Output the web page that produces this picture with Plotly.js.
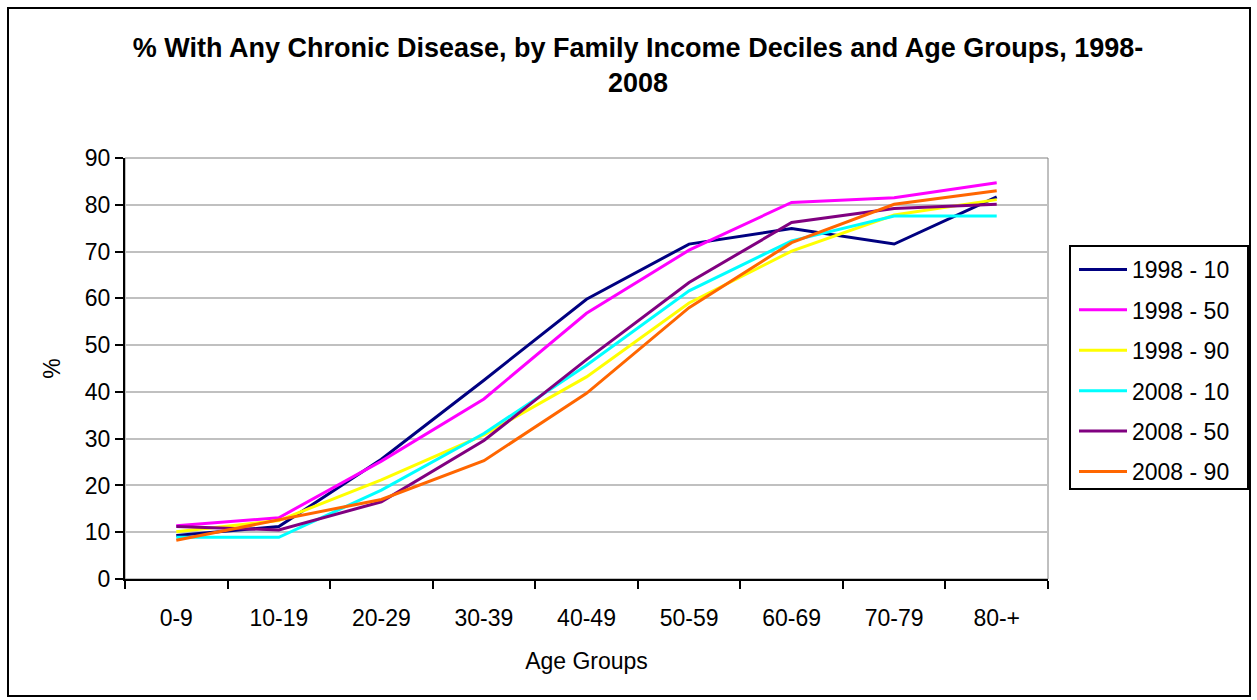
<!DOCTYPE html>
<html>
<head>
<meta charset="utf-8">
<script src="https://cdn.plot.ly/plotly-3.0.1.min.js"></script>
<style>
  html, body { margin: 0; padding: 0; background: #ffffff; }
  #chart { width: 1257px; height: 700px; }
</style>
</head>
<body>
<div id="chart"></div>
<script>
// Age groups on the category axis
const ageGroups = ['0-9', '10-19', '20-29', '30-39', '40-49', '50-59', '60-69', '70-79', '80-+'];

// % with any chronic disease, by year and family income decile
const y1998_d10 = [9.3, 11.2, 25.6, 42.5, 59.8, 71.6, 74.9, 71.6, 81.7];
const y1998_d50 = [11.4, 13.1, 25.2, 38.5, 56.8, 70.3, 80.5, 81.5, 84.7];
const y1998_d90 = [10.1, 12.5, 21.2, 30.8, 43.2, 59.0, 70.1, 77.8, 81.1];
const y2008_d10 = [8.9, 8.9, 19.0, 31.1, 45.7, 61.6, 72.3, 77.6, 77.6];
const y2008_d50 = [11.2, 10.5, 16.5, 29.6, 46.9, 63.4, 76.2, 79.2, 80.1];
const y2008_d90 = [8.3, 12.6, 17.0, 25.3, 39.7, 58.0, 71.9, 80.1, 83.0];

const seriesNames = ['1998 - 10', '1998 - 50', '1998 - 90', '2008 - 10', '2008 - 50', '2008 - 90'];
const seriesValues = [y1998_d10, y1998_d50, y1998_d90, y2008_d10, y2008_d50, y2008_d90];
const seriesColors = ['#000080', '#FF00FF', '#FFFF00', '#00FFFF', '#800080', '#FF6600'];

const FONT = 'Liberation Sans, Arial, sans-serif';

const traces = seriesNames.map((name, i) => ({
  type: 'scatter',
  mode: 'lines',
  name: name,
  legendgroup: 'g' + i,
  x: ageGroups,
  y: seriesValues[i],
  line: { color: seriesColors[i], width: 3 },
  hoverinfo: 'x+y+name'
}));

// plot area in pixels: left 125, right 1048, top 158, bottom 579
const L = 125, R = 1048, T = 158, B = 579;
const px = v => (v - L) / (R - L);
const py = v => (B - v) / (B - T);

const layout = {
  width: 1257,
  height: 700,
  margin: { l: L, r: 1257 - R, t: T, b: 700 - B, pad: 0 },
  paper_bgcolor: '#ffffff',
  plot_bgcolor: '#ffffff',
  font: { family: FONT, size: 23, color: '#000000' },
  showlegend: true,
  title: {
    text: '% With Any Chronic Disease, by Family Income Deciles and Age Groups, 1998-<br>2008',
    font: { family: FONT, size: 27, color: '#000000', weight: 'bold' },
    xref: 'container', yref: 'container',
    x: 638 / 1257, xanchor: 'center',
    y: 1 - 57 / 700, yanchor: 'top'
  },
  xaxis: {
    type: 'category',
    range: [-0.5, ageGroups.length - 0.5],
    tickson: 'boundaries',
    ticks: 'outside',
    ticklen: 8,
    tickwidth: 2,
    tickcolor: '#000000',
    ticklabelstandoff: 17,
    showline: true,
    linecolor: '#000000',
    linewidth: 2,
    showgrid: false,
    zeroline: false,
    tickfont: { family: FONT, size: 23, color: '#000000' },
    title: { text: 'Age Groups', font: { family: FONT, size: 23, color: '#000000' }, standoff: 23 },
    fixedrange: true
  },
  yaxis: {
    range: [0, 90],
    dtick: 10,
    tick0: 0,
    ticks: 'outside',
    ticklen: 8,
    tickwidth: 2,
    tickcolor: '#000000',
    showline: true,
    linecolor: '#000000',
    linewidth: 2,
    showgrid: true,
    gridcolor: '#C0C0C0',
    gridwidth: 2,
    zeroline: false,
    tickfont: { family: FONT, size: 23, color: '#000000' },
    title: { text: '%', font: { family: FONT, size: 23, color: '#000000' }, standoff: 18 },
    fixedrange: true
  },
  legend: {
    x: px(1074), xanchor: 'left',
    y: py(248), yanchor: 'top',
    borderwidth: 0,
    bgcolor: 'rgba(0,0,0,0)',
    font: { family: FONT, size: 23, color: '#000000' },
    traceorder: 'grouped',
    tracegroupgap: 7.5,
    itemwidth: 48
  },
  shapes: [
    // plot area frame
    { type: 'rect', xref: 'paper', yref: 'paper', x0: 0, x1: 1, y0: 0, y1: 1,
      line: { color: '#808080', width: 1 }, layer: 'below' },
    // legend frame
    { type: 'rect', xref: 'paper', yref: 'paper',
      x0: px(1070), x1: px(1248), y0: py(489), y1: py(246),
      fillcolor: '#ffffff', line: { color: '#000000', width: 2 }, layer: 'below' },
    // outer chart border
    { type: 'rect', xref: 'paper', yref: 'paper',
      x0: px(8), x1: px(1250), y0: py(696), y1: py(8),
      line: { color: '#000000', width: 2 } }
  ]
};

Plotly.newPlot('chart', traces, layout, { displayModeBar: false, staticPlot: true });
</script>
</body>
</html>
